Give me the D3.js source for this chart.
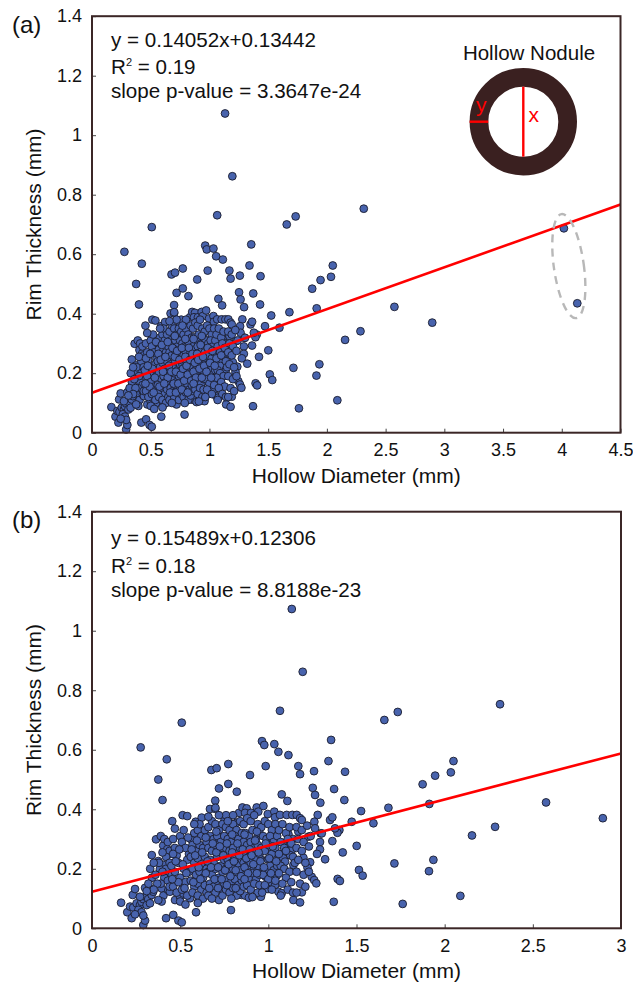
<!DOCTYPE html>
<html><head><meta charset="utf-8">
<script src="https://cdn.jsdelivr.net/npm/d3@7"></script>
<style>
body{margin:0;background:#fff}
svg{display:block}
text{font-family:"Liberation Sans",Arial,Helvetica,sans-serif;fill:#111}
</style>
</head><body>
<svg id="chart" width="633" height="986"></svg>
<script>
// [hollow diameter (mm), rim thickness (mm)]
const nodules = [
[0.276,0.608],[0.424,0.568],[0.376,0.500],[0.400,0.431],[0.509,0.691],[1.133,1.073],[1.195,0.862],[1.066,0.731],[1.658,0.700],[1.734,0.727],[2.314,0.753],
[0.964,0.629],[0.977,0.616],[1.034,0.619],[1.057,0.593],[1.114,0.582],[1.356,0.633],[0.985,0.545],[0.896,0.515],[1.170,0.545],[1.180,0.518],[1.341,0.562],[1.259,0.528],[1.435,0.526],
[0.677,0.532],[0.707,0.538],[0.773,0.552],[0.720,0.470],[0.773,0.485],[0.821,0.459],[1.076,0.450],[1.108,0.428],[1.252,0.472],[1.265,0.448],[1.373,0.468],[1.295,0.422],[1.431,0.431],[1.526,0.394],[1.681,0.405],[1.875,0.484],[1.946,0.513],[2.035,0.524],[2.050,0.562],[1.913,0.418],[2.575,0.423],[2.897,0.370],[2.286,0.341],[2.155,0.312],[1.715,0.218],[1.911,0.192],[1.936,0.230],[1.762,0.082],[2.089,0.109],[1.501,0.277],[1.422,0.255],[1.514,0.196],[1.535,0.177],[1.371,0.089],[1.596,0.353],[1.473,0.358],[4.018,0.687],[4.132,0.435],
[0.699,0.429],[0.669,0.401],[0.699,0.401],[0.455,0.360],[0.514,0.380],[0.540,0.377],[0.588,0.358],[0.622,0.372],[0.363,0.299],[0.339,0.246],
[0.165,0.086],[0.200,0.054],[0.225,0.034],[0.291,0.011],[0.301,0.026],[0.420,0.034],[0.461,0.045],[0.490,0.026],[0.509,0.020],[0.590,0.054],[0.788,0.061],
[1.280,0.381],[1.261,0.358],[1.350,0.364],[1.363,0.373],[1.403,0.330],[1.392,0.321],[1.297,0.319],[1.227,0.308],[1.363,0.293],[1.293,0.290],[1.293,0.265],[1.276,0.250],[1.322,0.232],[1.199,0.237],[1.237,0.222],[1.222,0.204],[1.246,0.173],[1.260,0.162],[1.272,0.151],[1.393,0.166],[1.406,0.159],[1.190,0.121],[1.142,0.095],[1.180,0.087],
[0.834,0.388],[0.853,0.406],[0.877,0.403],[0.868,0.388],[0.902,0.388],[0.934,0.406],[0.943,0.392],[0.972,0.411],[0.997,0.384],[1.034,0.392],[1.038,0.373],[1.066,0.381],[1.104,0.381],[1.136,0.381],[1.161,0.381],[1.180,0.370],[1.190,0.364],[0.750,0.360],[0.779,0.355],[0.821,0.355],
[0.849,0.112],[0.868,0.110],[0.890,0.103],[0.953,0.110],[0.958,0.106],[0.985,0.173],[1.019,0.162],[1.048,0.177],[1.023,0.148],[1.038,0.145],[0.997,0.232],[0.953,0.235],[0.943,0.213],[0.958,0.207],[1.057,0.123],[1.076,0.118],[0.998,0.132],
[1.114,0.316],[1.170,0.325],[1.114,0.289],[1.123,0.278],[1.133,0.263],[1.123,0.246],[1.085,0.252],[1.085,0.235],[1.095,0.224],[1.142,0.213],[1.048,0.252],[1.000,0.263],[1.038,0.224],[1.265,0.336],[1.303,0.319],[1.378,0.336],
[0.231,0.112],[0.244,0.132],[0.216,0.073],[0.234,0.070],[0.253,0.084],[0.272,0.078],[0.281,0.089],[0.291,0.098],[0.306,0.106],[0.319,0.098],[0.338,0.112],[0.347,0.123],[0.263,0.062],[0.281,0.054],[0.291,0.043],[0.244,0.047],[0.301,0.136],[0.333,0.132],[0.272,0.106],[0.310,0.078],[0.329,0.084],
[0.404,0.278],[0.427,0.266],[0.433,0.248],[0.376,0.226],[0.404,0.213],[0.385,0.199],[0.423,0.190],[0.452,0.179],[0.395,0.134],[0.405,0.110],[0.395,0.090],[0.376,0.095],[0.433,0.128],[0.442,0.123],[0.471,0.095],[0.499,0.106],[0.518,0.117],[0.556,0.101],[0.603,0.090],
[0.39,0.31],[0.41,0.30],[0.43,0.29],[0.44,0.26],[0.42,0.24],[0.40,0.255],[0.38,0.22],[0.42,0.20],[0.44,0.22],[0.41,0.17],[0.43,0.16],[0.39,0.15],[0.44,0.14],[0.40,0.19],
[0.33,0.20],[0.35,0.22],[0.34,0.17],[0.36,0.18],[0.32,0.15],[0.37,0.15],[0.35,0.13],[0.31,0.125],
[0.46,0.30],[0.47,0.27],[0.48,0.245],[0.50,0.31],[0.51,0.29],[0.49,0.22],[0.52,0.20],[0.47,0.19],[0.50,0.17],[0.53,0.155],[0.46,0.14],[0.48,0.12],[0.51,0.13],[0.54,0.11],[0.55,0.25],[0.53,0.27],[0.54,0.23],[0.45,0.21],[0.52,0.33],[0.55,0.19],[0.49,0.155],[0.46,0.25],[0.50,0.09],[0.53,0.08],[0.47,0.335],
[0.56,0.30],[0.58,0.32],[0.60,0.33],[0.62,0.31],[0.57,0.28],[0.59,0.26],[0.61,0.28],[0.63,0.27],[0.56,0.24],[0.58,0.22],[0.60,0.235],[0.62,0.215],[0.64,0.24],[0.57,0.20],[0.59,0.18],[0.61,0.19],[0.63,0.17],[0.65,0.20],[0.56,0.16],[0.58,0.14],[0.60,0.15],[0.62,0.13],[0.64,0.145],[0.57,0.12],[0.60,0.11],[0.63,0.10],[0.65,0.12],[0.61,0.35],[0.64,0.33],[0.58,0.35],[0.65,0.29],[0.60,0.085],
[0.66,0.34],[0.68,0.36],[0.70,0.35],[0.72,0.33],[0.74,0.35],[0.67,0.31],[0.69,0.30],[0.71,0.31],[0.73,0.29],[0.75,0.31],[0.66,0.27],[0.68,0.26],[0.70,0.28],[0.72,0.25],[0.74,0.27],[0.67,0.23],[0.69,0.22],[0.71,0.24],[0.73,0.21],[0.75,0.23],[0.66,0.19],[0.68,0.18],[0.70,0.20],[0.72,0.17],[0.74,0.19],[0.67,0.15],[0.69,0.14],[0.71,0.16],[0.73,0.13],[0.75,0.15],[0.66,0.11],[0.70,0.12],[0.72,0.095],[0.74,0.11],[0.68,0.10],[0.76,0.38],[0.72,0.38],[0.70,0.405],[0.66,0.375],
[0.76,0.34],[0.78,0.33],[0.80,0.35],[0.82,0.33],[0.84,0.36],[0.77,0.30],[0.79,0.29],[0.81,0.31],[0.83,0.30],[0.85,0.32],[0.76,0.27],[0.78,0.26],[0.80,0.27],[0.82,0.25],[0.84,0.27],[0.77,0.23],[0.79,0.22],[0.81,0.235],[0.83,0.215],[0.85,0.23],[0.76,0.20],[0.78,0.19],[0.80,0.20],[0.82,0.18],[0.84,0.195],[0.77,0.165],[0.79,0.155],[0.81,0.165],[0.83,0.145],[0.85,0.16],[0.76,0.13],[0.78,0.12],[0.80,0.135],[0.82,0.11],[0.84,0.125],[0.79,0.10],[0.86,0.14],[0.80,0.38],[0.77,0.36],
[0.86,0.35],[0.88,0.37],[0.90,0.36],[0.92,0.38],[0.94,0.35],[0.87,0.32],[0.89,0.31],[0.91,0.33],[0.93,0.30],[0.95,0.32],[0.86,0.29],[0.88,0.28],[0.90,0.29],[0.92,0.27],[0.94,0.28],[0.87,0.25],[0.89,0.24],[0.91,0.255],[0.93,0.235],[0.95,0.25],[0.86,0.22],[0.88,0.21],[0.90,0.22],[0.92,0.20],[0.94,0.21],[0.87,0.18],[0.89,0.17],[0.91,0.185],[0.93,0.165],[0.95,0.18],[0.88,0.145],[0.90,0.13],[0.92,0.15],[0.94,0.12],[0.91,0.105],[0.95,0.145],
[0.96,0.34],[0.98,0.36],[1.00,0.35],[1.02,0.33],[1.04,0.35],[0.97,0.31],[0.99,0.30],[1.01,0.31],[1.03,0.29],[1.05,0.31],[0.96,0.27],[0.98,0.26],[1.00,0.28],[1.02,0.25],[1.04,0.27],[0.99,0.20],[1.01,0.21],[1.03,0.195],[1.05,0.21],[0.97,0.18],[1.00,0.165],[1.04,0.16],[0.98,0.145],[1.02,0.13],[0.965,0.12],
[1.06,0.33],[1.08,0.35],[1.10,0.32],[1.12,0.34],[1.14,0.30],[1.07,0.29],[1.09,0.27],[1.11,0.30],[1.13,0.285],[1.06,0.25],[1.10,0.26],[1.14,0.24],[1.07,0.21],[1.09,0.20],[1.12,0.19],[1.15,0.22],[1.06,0.185],[1.10,0.17],[1.13,0.155],[1.08,0.15],[1.11,0.13],[1.14,0.12],[1.07,0.11],
[1.16,0.34],[1.19,0.33],[1.22,0.345],[1.17,0.30],[1.20,0.29],[1.24,0.31],[1.16,0.27],[1.19,0.26],[1.23,0.275],[1.17,0.23],[1.21,0.22],[1.16,0.19],[1.20,0.18],[1.23,0.19],[1.18,0.15],[1.21,0.14],[1.16,0.12],
[0.515,0.215],[0.535,0.185],[0.565,0.265],[0.585,0.245],[0.605,0.205],[0.625,0.255],[0.645,0.185],[0.655,0.225],[0.675,0.205],[0.685,0.285],[0.695,0.165],[0.705,0.255],[0.715,0.205],[0.725,0.275],[0.735,0.165],[0.745,0.245],[0.755,0.195],[0.765,0.285],[0.775,0.215],[0.785,0.175],[0.795,0.255],[0.805,0.225],[0.815,0.195],[0.825,0.285],[0.835,0.245],[0.845,0.175],[0.855,0.265],[0.865,0.205],[0.875,0.235],[0.885,0.185],[0.895,0.265],[0.905,0.245],[0.915,0.215],[0.925,0.295],[0.935,0.185],[0.945,0.255],[0.955,0.225],[0.975,0.205],[0.985,0.285],[1.005,0.235],[1.015,0.185],[1.025,0.275],[1.045,0.225],[0.545,0.305],[0.595,0.295],[0.645,0.305],[0.705,0.325],[0.795,0.315],[0.865,0.315],[0.935,0.325],[0.475,0.225],[0.495,0.265],[0.455,0.165],[0.525,0.135],[0.575,0.155],[0.615,0.165],[0.665,0.135],[0.715,0.135],[0.765,0.145],[0.815,0.135],[0.865,0.165]
];

const panelLabels = ["(a)", "(b)"];
const xMax = [4.5, 3];
const xTicksA = [0, 0.5, 1, 1.5, 2, 2.5, 3, 3.5, 4, 4.5];
const xTicksB = [0, 0.5, 1, 1.5, 2, 2.5, 3];
const yTicks = [0, 0.2, 0.4, 0.6, 0.8, 1, 1.2, 1.4];
const yTickLabels = ["0", "0.2", "0.4", "0.6", "0.8", "1", "1.2", "1.4"];
const fitSlope = [0.14052, 0.15489];
const fitIntercept = [0.13442, 0.12306];
const fitR2 = ["0.19", "0.18"];
const fitP = ["3.3647e-24", "8.8188e-23"];
const xTitle = "Hollow Diameter (mm)";
const yTitle = "Rim Thickness (mm)";
const excludedCutoff = 3; // panel (b) drops the two outliers beyond 3 mm

const svg = d3.select("#chart");
const frameColor = "#3b2626";
const dotFill = "#4863ad";
const dotStroke = "#1b1d2e";

const panels = [
  {left: 92, right: 620.5, top: 16.2, bottom: 432.7, xTicks: xTicksA, data: nodules,
   eqBase: [46.5, 73.5, 97.5], labelY: 33},
  {left: 92, right: 621, top: 511.7, bottom: 928.3, xTicks: xTicksB, data: nodules.filter(d => d[0] <= excludedCutoff),
   eqBase: [545, 572.5, 597], labelY: 528}
];

panels.forEach((p, i) => {
  const x = d3.scaleLinear().domain([0, xMax[i]]).range([p.left, p.right]);
  const y = d3.scaleLinear().domain([0, 1.4]).range([p.bottom, p.top]);
  const g = svg.append("g");

  const ya = g.append("g").attr("transform", `translate(${p.left},0)`)
    .call(d3.axisLeft(y).tickValues(yTicks).tickFormat((d, k) => yTickLabels[k]).tickSizeInner(-4).tickSizeOuter(0).tickPadding(10));
  const xa = g.append("g").attr("transform", `translate(0,${p.bottom})`)
    .call(d3.axisBottom(x).tickValues(p.xTicks).tickFormat(d => String(d)).tickSizeInner(-4).tickSizeOuter(0).tickPadding(11));
  [ya, xa].forEach(a => {
    a.select(".domain").remove();
    a.selectAll("line").attr("stroke", "#444").attr("stroke-width", 1);
    a.selectAll("text").attr("font-size", 18).attr("fill", "#111")
      .attr("font-family", '"Liberation Sans",Arial,sans-serif');
  });

  g.append("g").selectAll("circle").data(p.data).join("circle")
    .attr("cx", d => x(d[0])).attr("cy", d => y(d[1])).attr("r", 3.9)
    .attr("fill", dotFill).attr("stroke", dotStroke).attr("stroke-width", 0.9);

  g.append("line")
    .attr("x1", x(0)).attr("y1", y(fitIntercept[i]))
    .attr("x2", x(xMax[i])).attr("y2", y(fitIntercept[i] + fitSlope[i] * xMax[i]))
    .attr("stroke", "#ff0000").attr("stroke-width", 2.6);

  g.append("rect").attr("x", p.left).attr("y", p.top)
    .attr("width", p.right - p.left).attr("height", p.bottom - p.top)
    .attr("fill", "none").attr("stroke", frameColor).attr("stroke-width", 2);

  const tx = 111;
  g.append("text").attr("x", tx).attr("y", p.eqBase[0]).attr("font-size", 20.6)
    .text(`y = ${fitSlope[i].toFixed(5)}x+${fitIntercept[i].toFixed(5)}`);
  const r2 = g.append("text").attr("x", tx).attr("y", p.eqBase[1]).attr("font-size", 20.6);
  r2.append("tspan").text("R");
  r2.append("tspan").attr("font-size", 11).attr("dy", -8).text("2");
  r2.append("tspan").attr("dy", 8).text(` = ${fitR2[i]}`);
  g.append("text").attr("x", tx).attr("y", p.eqBase[2]).attr("font-size", 20.6)
    .text(`slope p-value = ${fitP[i]}`);

  g.append("text").attr("x", 12).attr("y", p.labelY).attr("font-size", 24).text(panelLabels[i]);

  g.append("text").attr("x", (p.left + p.right) / 2).attr("y", p.bottom + 50)
    .attr("text-anchor", "middle").attr("font-size", 21).text(xTitle);
  g.append("text").attr("transform", `translate(41,${(p.top + p.bottom) / 2}) rotate(-90)`)
    .attr("text-anchor", "middle").attr("font-size", 21).text(yTitle);

  if (i === 0) {
    g.append("ellipse").attr("cx", 0).attr("cy", 0).attr("rx", 15).attr("ry", 52.5)
      .attr("transform", `translate(${x(4.06)},${y(0.56)}) rotate(-8)`)
      .attr("fill", "none").attr("stroke", "#b8b8b8").attr("stroke-width", 2.4)
      .attr("stroke-dasharray", "8,6");

    const cx = 523.3, cy = 121.7, ro = 53.7, ri = 35;
    const ins = g.append("g");
    ins.append("text").attr("x", 529).attr("y", 60).attr("text-anchor", "middle")
      .attr("font-size", 20.5).text("Hollow Nodule");
    ins.append("circle").attr("cx", cx).attr("cy", cy).attr("r", (ro + ri) / 2)
      .attr("fill", "#fff").attr("stroke", "#3a2020").attr("stroke-width", ro - ri);
    ins.append("line").attr("x1", cx).attr("x2", cx).attr("y1", cy - ri).attr("y2", cy + ri)
      .attr("stroke", "#ff0000").attr("stroke-width", 2.4);
    ins.append("line").attr("x1", cx - ro).attr("x2", cx - ri).attr("y1", cy).attr("y2", cy)
      .attr("stroke", "#ff0000").attr("stroke-width", 2.4);
    ins.append("text").attr("x", 476).attr("y", 112).attr("font-size", 21)
      .style("fill", "#ff0000").text("y");
    ins.append("text").attr("x", 528.5).attr("y", 121.5).attr("font-size", 21)
      .style("fill", "#ff0000").text("x");
  }
});
</script>
</body></html>
